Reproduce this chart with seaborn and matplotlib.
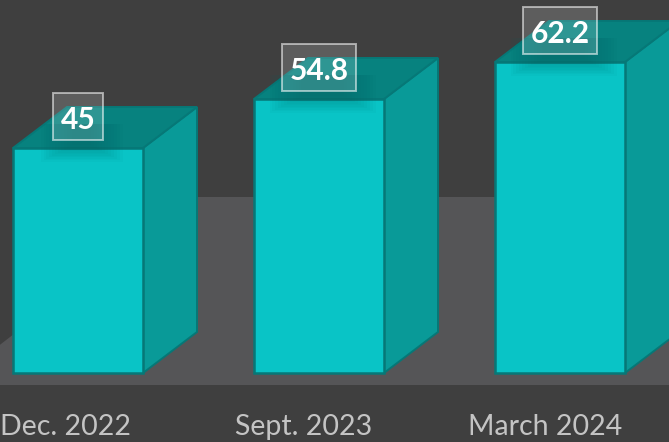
import matplotlib
matplotlib.use("Agg")
import matplotlib.pyplot as plt
import seaborn as sns
import pandas as pd
from matplotlib.patches import Polygon, Rectangle

categories = ["Dec. 2022", "Sept. 2023", "March 2024"]
values = [45, 54.8, 62.2]
labels = ["45", "54.8", "62.2"]

W, H = 669, 442
X0, STEP = 78, 241      # pixel of first category, pixels per category
Y0, UNIT = 373, 5       # pixel of value 0, pixels per unit
BAR_W = 130 / STEP
DX, DY = 54 / STEP, 41 / UNIT
BOX_W = [50 / STEP, 74 / STEP, 74 / STEP]
BOX_H = 47 / UNIT

WALL, FLOOR = "#3f3f3f", "#555557"
FRONT, SIDE, TOP, EDGE = "#09c4c6", "#099a98", "#07827f", "#067877"
TICK = "#c4c4c4"

sns.set_theme(style="white")
plt.rcParams["font.family"] = ["Lato", "DejaVu Sans"]

fig = plt.figure(figsize=(W / 100, H / 100), dpi=100, facecolor=WALL)
ax = fig.add_axes([0, 0, 1, 1], facecolor=WALL)

def px(x, y):
    return (x - X0) / STEP, (Y0 - y) / UNIT

ax.add_patch(Polygon([px(191, 197), px(700, 197), px(700, 385), px(-52, 385)],
                     closed=True, fc=FLOOR, ec="none", zorder=0.5))

df = pd.DataFrame({"period": categories, "value": values})
sns.barplot(data=df, x="period", y="value", ax=ax, width=BAR_W, color=FRONT,
            saturation=1, edgecolor=EDGE, linewidth=1.8, zorder=3)

hw = BAR_W / 2
for i, v in enumerate(values):
    ax.add_patch(Polygon([(i + hw, 0), (i + hw + DX, DY), (i + hw + DX, v + DY), (i + hw, v)],
                         closed=True, fc=SIDE, ec=EDGE, lw=1.4, zorder=2))
    ax.add_patch(Polygon([(i - hw, v), (i - hw + DX, v + DY), (i + hw + DX, v + DY), (i + hw, v)],
                         closed=True, fc=TOP, ec=EDGE, lw=1.4, zorder=2))
    # soft shadow under the label box
    for k in range(12):
        sw = 0.17 + 0.05 * (i > 0) - 0.012 * k
        ax.add_patch(Rectangle((i + 0.015 - sw, v - 2.8 + 0.3 * k), 2 * sw, 7.5 - 0.3 * k,
                               fc="#045f60", ec="none", alpha=0.035, zorder=4))
    ax.add_patch(Rectangle((i - BOX_W[i] / 2, v + 6.3 - BOX_H / 2), BOX_W[i], BOX_H,
                           fc=(1, 1, 1, 0.16), ec=(1, 1, 1, 0.55), lw=1.4, zorder=5))
    ax.text(i, v + 5.6, labels[i], ha="center", va="center", color="white",
            fontsize=21.5, fontweight="bold", zorder=6)

ax.set_xlim((0 - X0) / STEP, (W - X0) / STEP)
ax.set_ylim((Y0 - H) / UNIT, Y0 / UNIT)
ax.set_xlabel("")
ax.set_ylabel("")
ax.set_yticks([])
ax.set_xticks([])
for s in ax.spines.values():
    s.set_visible(False)
for i, c in enumerate(categories):
    x = i - 13 / STEP if i == 0 else i - 15 / STEP
    ax.text(x, (Y0 - 427) / UNIT, c, ha="center", va="center", color=TICK, fontsize=20.5)

fig.savefig("out.png", dpi=100, facecolor=WALL)
